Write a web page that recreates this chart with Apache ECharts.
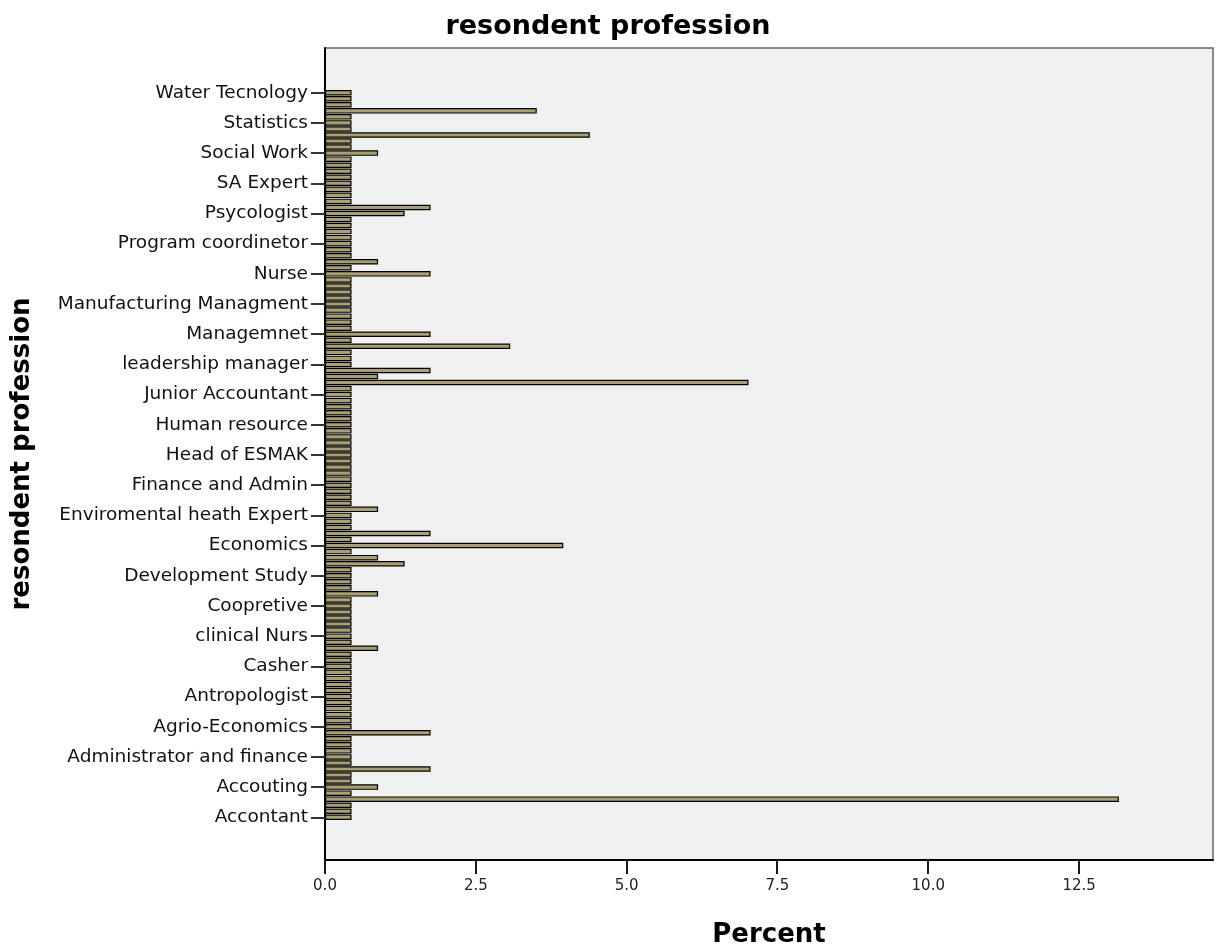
<!DOCTYPE html>
<html>
<head>
<meta charset="utf-8">
<title>resondent profession</title>
<script src="https://cdn.jsdelivr.net/npm/echarts@6/dist/echarts.min.js"></script>
<style>
  html, body { margin: 0; padding: 0; background: #fff; }
  #chart { width: 1216px; height: 951px; }
</style>
</head>
<body>
<div id="chart"></div>
<script>
// labelled professions, bottom -> top (every 5th category carries a label)
var professionLabels = [
  'Accontant', 'Accouting', 'Administrator and finance', 'Agrio-Economics',
  'Antropologist', 'Casher', 'clinical Nurs', 'Coopretive', 'Development Study',
  'Economics', 'Enviromental heath Expert', 'Finance and Admin', 'Head of ESMAK',
  'Human resource', 'Junior Accountant', 'leadership manager', 'Managemnet',
  'Manufacturing Managment', 'Nurse', 'Program coordinetor', 'Psycologist',
  'SA Expert', 'Social Work', 'Statistics', 'Water Tecnology'
];

// percent per category, bottom -> top, one row per labelled group of 5
var percents = [
  0.44, 0.44, 0.44, 13.16, 0.44,   // Accontant
  0.88, 0.44, 0.44, 1.75, 0.44,    // Accouting
  0.44, 0.44, 0.44, 0.44, 1.75,    // Administrator and finance
  0.44, 0.44, 0.44, 0.44, 0.44,    // Agrio-Economics
  0.44, 0.44, 0.44, 0.44, 0.44,    // Antropologist
  0.44, 0.44, 0.44, 0.88, 0.44,    // Casher
  0.44, 0.44, 0.44, 0.44, 0.44,    // clinical Nurs
  0.44, 0.44, 0.88, 0.44, 0.44,    // Coopretive
  0.44, 0.44, 1.32, 0.88, 0.44,    // Development Study
  3.95, 0.44, 1.75, 0.44, 0.44,    // Economics
  0.44, 0.88, 0.44, 0.44, 0.44,    // Enviromental heath Expert
  0.44, 0.44, 0.44, 0.44, 0.44,    // Finance and Admin
  0.44, 0.44, 0.44, 0.44, 0.44,    // Head of ESMAK
  0.44, 0.44, 0.44, 0.44, 0.44,    // Human resource
  0.44, 0.44, 7.02, 0.88, 1.75,    // Junior Accountant
  0.44, 0.44, 0.44, 3.07, 0.44,    // leadership manager
  1.75, 0.44, 0.44, 0.44, 0.44,    // Managemnet
  0.44, 0.44, 0.44, 0.44, 0.44,    // Manufacturing Managment
  1.75, 0.44, 0.88, 0.44, 0.44,    // Nurse
  0.44, 0.44, 0.44, 0.44, 0.44,    // Program coordinetor
  1.32, 1.75, 0.44, 0.44, 0.44,    // Psycologist
  0.44, 0.44, 0.44, 0.44, 0.44,    // SA Expert
  0.88, 0.44, 0.44, 4.39, 0.44,    // Social Work
  0.44, 0.44, 3.51, 0.44, 0.44,    // Statistics
  0.44                             // Water Tecnology
];

var percentMax = 14.72;
var percentTicks = [0, 2.5, 5, 7.5, 10, 12.5];

var categories = percents.map(function(v, i) {
  return i % 5 === 0 ? professionLabels[i / 5] : '';
});

var chart = echarts.init(document.getElementById('chart'));
var font = 'DejaVu Sans';

chart.setOption({
  animation: false,
  backgroundColor: '#ffffff',
  title: {
    text: 'resondent profession',
    left: 'center',
    top: 8,
    textStyle: { fontFamily: font, fontSize: 27, fontWeight: 'bold', color: '#000' }
  },
  grid: [
    {
      // plot frame
      left: 325, right: 3, top: 48, bottom: 91,
      containLabel: false,
      outerBoundsMode: 'none',
      show: true,
      backgroundColor: '#F0F0F0',
      borderColor: '#666',
      borderWidth: 1.5
    },
    {
      // band area of the categories
      left: 325, right: 3, top: 89.7, bottom: 130.7,
      containLabel: false,
      outerBoundsMode: 'none'
    },
    {
      // strip under the frame holding the tick marks
      left: 325, right: 3, top: 860, bottom: 77,
      containLabel: false,
      outerBoundsMode: 'none'
    }
  ],
  xAxis: [
    {
      // labels + axis title
      gridIndex: 0,
      type: 'value',
      min: 0,
      max: percentMax,
      name: 'Percent',
      nameLocation: 'middle',
      nameGap: 62,
      nameTextStyle: { fontFamily: font, fontSize: 26, fontWeight: 'bold', color: '#000' },
      axisLine: { show: true, onZero: false, lineStyle: { color: '#000', width: 2 } },
      axisTick: { show: false },
      axisLabel: {
        fontFamily: font, fontSize: 15, color: '#222', margin: 19,
        customValues: percentTicks,
        formatter: function(v) { return v.toFixed(1); }
      },
      splitLine: { show: false }
    },
    {
      gridIndex: 1,
      type: 'value',
      min: 0,
      max: percentMax,
      show: false
    },
    {
      gridIndex: 2,
      type: 'value',
      min: 0,
      max: percentMax,
      show: false
    }
  ],
  yAxis: [
    {
      gridIndex: 0,
      type: 'value',
      name: 'resondent profession',
      nameLocation: 'middle',
      nameGap: 290,
      nameTextStyle: { fontFamily: font, fontSize: 26, fontWeight: 'bold', color: '#000' },
      axisLine: { show: true, onZero: false, lineStyle: { color: '#000', width: 2 } },
      axisTick: { show: false },
      axisLabel: { show: false },
      splitLine: { show: false }
    },
    {
      gridIndex: 1,
      type: 'category',
      data: categories,
      axisLine: { show: false },
      axisTick: {
        show: true, length: 14, interval: 4, alignWithLabel: true,
        lineStyle: { color: '#333', width: 2 }
      },
      axisLabel: { interval: 4, fontFamily: font, fontSize: 18.5, color: '#111', margin: 17 }
    },
    {
      gridIndex: 2,
      type: 'value',
      min: 0,
      max: 1,
      show: false
    }
  ],
  series: [
    {
      type: 'bar',
      xAxisIndex: 1,
      yAxisIndex: 1,
      data: percents,
      barWidth: 5.5,
      itemStyle: { color: '#A89F72', borderColor: '#000', borderWidth: 1.2 }
    },
    {
      // x tick marks below the frame, drawn as thin filled rects
      type: 'custom',
      xAxisIndex: 2,
      yAxisIndex: 2,
      z: 10,
      clip: false,
      silent: true,
      data: percentTicks.map(function(v) { return [v, 0]; }),
      renderItem: function(params, api) {
        var top = api.coord([api.value(0), 1]);
        var bottom = api.coord([api.value(0), 0]);
        var x = Math.round(top[0]);
        return {
          type: 'rect',
          shape: { x: x - 1, y: Math.round(top[1]), width: 2, height: Math.round(bottom[1] - top[1]) },
          style: { fill: '#1a1a1a' }
        };
      }
    }
  ]
});
</script>
</body>
</html>
